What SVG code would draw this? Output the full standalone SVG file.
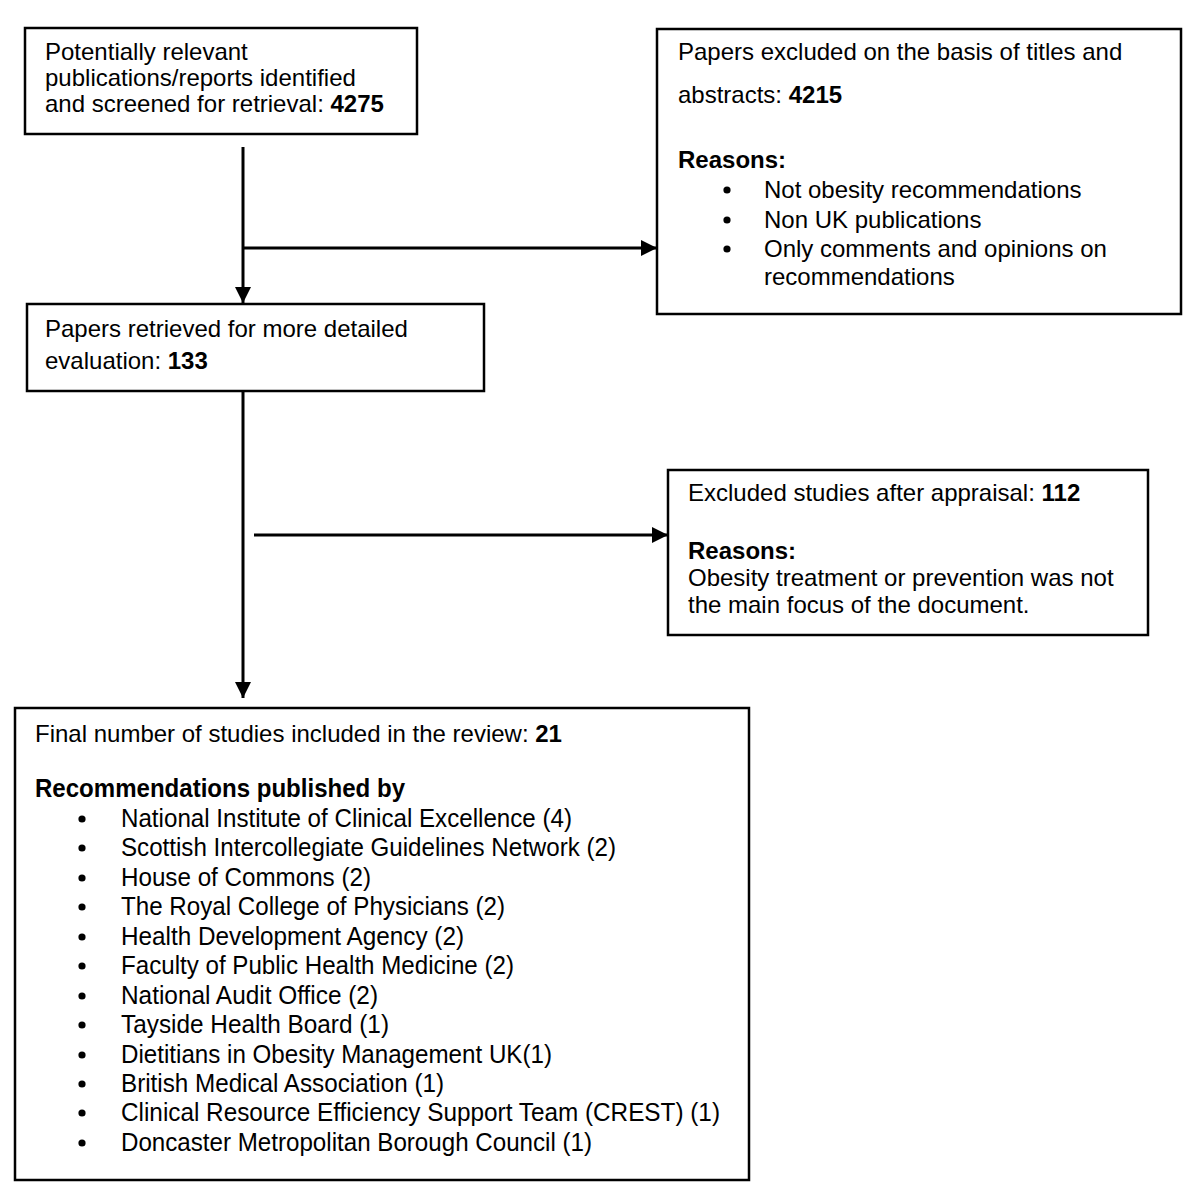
<svg xmlns="http://www.w3.org/2000/svg" width="1200" height="1196" viewBox="0 0 1200 1196">
<style>
  .box { fill: #ffffff; stroke: #000000; stroke-width: 2.5; }
  .t { font-family: "Liberation Sans", Arial, sans-serif; font-size: 24px; fill: #000000; }
  .tb { font-family: "Liberation Sans", Arial, sans-serif; font-size: 25px; fill: #000000; }
  .b { font-weight: bold; }
  .dot { fill: #000000; }
  .conn { stroke: #000000; stroke-width: 3; fill: none; }
</style>
<defs>
  <marker id="arrow" markerUnits="userSpaceOnUse" markerWidth="17" markerHeight="16" refX="16" refY="8" orient="auto">
    <path d="M0,0 L16,8 L0,16 z" fill="#000000"/>
  </marker>
</defs>
<rect width="1200" height="1196" fill="#ffffff"/>
<g id="connectors">
  <line class="conn" x1="243" y1="147" x2="243" y2="303" marker-end="url(#arrow)"/>
  <line class="conn" x1="243" y1="248" x2="657" y2="248" marker-end="url(#arrow)"/>
  <line class="conn" x1="243" y1="392" x2="243" y2="698" marker-end="url(#arrow)"/>
  <line class="conn" x1="254" y1="535" x2="668" y2="535" marker-end="url(#arrow)"/>
</g>
<g id="identified">
  <rect class="box" x="25" y="28" width="392" height="106"/>
  <text class="t" x="45" y="60">Potentially relevant</text>
  <text class="t" x="45" y="86">publications/reports identified</text>
  <text class="t" x="45" y="112">and screened for retrieval: <tspan class="b">4275</tspan></text>
</g>
<g id="excluded-titles">
  <rect class="box" x="657" y="29" width="524" height="285"/>
  <text class="t" x="678" y="60">Papers excluded on the basis of titles and</text>
  <text class="t" x="678" y="103">abstracts: <tspan class="b">4215</tspan></text>
  <text class="t b" x="678" y="168">Reasons:</text>
  <circle class="dot" cx="727" cy="190" r="3.6"/>
  <text class="t" x="764" y="198">Not obesity recommendations</text>
  <circle class="dot" cx="727" cy="220" r="3.6"/>
  <text class="t" x="764" y="228">Non UK publications</text>
  <circle class="dot" cx="727" cy="249" r="3.6"/>
  <text class="t" x="764" y="257">Only comments and opinions on</text>
  <text class="t" x="764" y="285">recommendations</text>
</g>
<g id="retrieved">
  <rect class="box" x="27" y="304" width="457" height="87"/>
  <text class="t" x="45" y="337">Papers retrieved for more detailed</text>
  <text class="t" x="45" y="369">evaluation: <tspan class="b">133</tspan></text>
</g>
<g id="excluded-appraisal">
  <rect class="box" x="668" y="470" width="480" height="165"/>
  <text class="t" x="688" y="501">Excluded studies after appraisal: <tspan class="b">112</tspan></text>
  <text class="t b" x="688" y="559">Reasons:</text>
  <text class="t" x="688" y="586">Obesity treatment or prevention was not</text>
  <text class="t" x="688" y="613">the main focus of the document.</text>
</g>
<g id="included">
  <rect class="box" x="15" y="708" width="734" height="472"/>
  <text class="t" x="35" y="742">Final number of studies included in the review: <tspan class="b">21</tspan></text>
  <text class="tb b" x="35" y="797" textLength="370" lengthAdjust="spacingAndGlyphs">Recommendations published by</text>
  <circle class="dot" cx="82" cy="819" r="3.6"/>
  <text class="tb" x="121" y="827" textLength="451" lengthAdjust="spacingAndGlyphs">National Institute of Clinical Excellence (4)</text>
  <circle class="dot" cx="82" cy="848" r="3.6"/>
  <text class="tb" x="121" y="856" textLength="495" lengthAdjust="spacingAndGlyphs">Scottish Intercollegiate Guidelines Network (2)</text>
  <circle class="dot" cx="82" cy="878" r="3.6"/>
  <text class="tb" x="121" y="886" textLength="250" lengthAdjust="spacingAndGlyphs">House of Commons (2)</text>
  <circle class="dot" cx="82" cy="907" r="3.6"/>
  <text class="tb" x="121" y="915" textLength="384" lengthAdjust="spacingAndGlyphs">The Royal College of Physicians (2)</text>
  <circle class="dot" cx="82" cy="937" r="3.6"/>
  <text class="tb" x="121" y="945" textLength="343" lengthAdjust="spacingAndGlyphs">Health Development Agency (2)</text>
  <circle class="dot" cx="82" cy="966" r="3.6"/>
  <text class="tb" x="121" y="974" textLength="393" lengthAdjust="spacingAndGlyphs">Faculty of Public Health Medicine (2)</text>
  <circle class="dot" cx="82" cy="996" r="3.6"/>
  <text class="tb" x="121" y="1004" textLength="257" lengthAdjust="spacingAndGlyphs">National Audit Office (2)</text>
  <circle class="dot" cx="82" cy="1025" r="3.6"/>
  <text class="tb" x="121" y="1033" textLength="268" lengthAdjust="spacingAndGlyphs">Tayside Health Board (1)</text>
  <circle class="dot" cx="82" cy="1055" r="3.6"/>
  <text class="tb" x="121" y="1063" textLength="431" lengthAdjust="spacingAndGlyphs">Dietitians in Obesity Management UK(1)</text>
  <circle class="dot" cx="82" cy="1084" r="3.6"/>
  <text class="tb" x="121" y="1092" textLength="323" lengthAdjust="spacingAndGlyphs">British Medical Association (1)</text>
  <circle class="dot" cx="82" cy="1113" r="3.6"/>
  <text class="tb" x="121" y="1121" textLength="599" lengthAdjust="spacingAndGlyphs">Clinical Resource Efficiency Support Team (CREST) (1)</text>
  <circle class="dot" cx="82" cy="1143" r="3.6"/>
  <text class="tb" x="121" y="1151" textLength="471" lengthAdjust="spacingAndGlyphs">Doncaster Metropolitan Borough Council (1)</text>
</g>
</svg>
